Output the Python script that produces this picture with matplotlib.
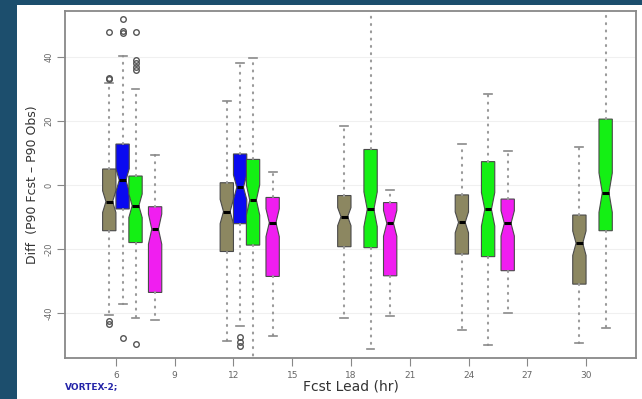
#! /usr/bin/env python3
# Notched box plots of P90 difference vs forecast lead time

import matplotlib
matplotlib.use('Agg')
import matplotlib.pyplot as plt
import numpy as np

# Data
leads = [6, 12, 18, 24, 30]
xtick_vals = [6, 9, 12, 15, 18, 21, 24, 27, 30]
n_cases = 80            # rough sample size, used for the notch size

olive_leads = [6, 12, 18, 24, 30]
olive_q3 = [5.0, 0.7, -3.3, -3.1, -9.4]
olive_med = [-5.2, -8.3, -9.9, -11.7, -18.2]
olive_q1 = [-14.3, -20.8, -19.3, -21.6, -31.0]
olive_whi = [32.0, 26.3, 18.4, 12.8, 12.0]
olive_wlo = [-40.5, -48.9, -41.7, -45.5, -49.3]
olive_fliers = [[33.2, 33.6, 47.8, -42.6, -43.4], [], [], [], []]

blue_leads = [6, 12]
blue_q3 = [12.8, 9.7]
blue_med = [1.5, -0.7]
blue_q1 = [-7.5, -12.1]
blue_whi = [40.3, 38.2]
blue_wlo = [-37.1, -44.0]
blue_fliers = [[47.6, 48.1, 51.9, -48.0], [-47.5, -49.0, -50.2]]

green_leads = [6, 12, 18, 24, 30]
green_q3 = [2.8, 8.0, 11.1, 7.3, 20.6]
green_med = [-6.5, -4.7, -7.6, -7.6, -2.4]
green_q1 = [-18.0, -18.8, -19.6, -22.4, -14.3]
green_whi = [30.1, 39.6, 58.0, 28.4, 58.0]
green_wlo = [-41.6, -58.0, -51.3, -49.9, -44.8]
green_fliers = [[35.8, 36.8, 38.2, 39.2, 47.8, -49.8], [], [], [], []]

magenta_leads = [6, 12, 18, 24]
magenta_q3 = [-6.8, -3.9, -5.5, -4.4]
magenta_med = [-13.8, -11.8, -12.0, -12.0]
magenta_q1 = [-33.6, -28.6, -28.4, -26.8]
magenta_whi = [9.3, 4.2, -1.6, 10.7]
magenta_wlo = [-42.2, -47.1, -40.9, -39.9]
magenta_fliers = [[], [], [], []]

series = [
    (olive_leads, olive_q1, olive_med, olive_q3, olive_wlo, olive_whi, olive_fliers, -0.34, '#8c8761'),
    (blue_leads, blue_q1, blue_med, blue_q3, blue_wlo, blue_whi, blue_fliers, 0.34, '#0a0af0'),
    (green_leads, green_q1, green_med, green_q3, green_wlo, green_whi, green_fliers, 1.0, '#14f014'),
    (magenta_leads, magenta_q1, magenta_med, magenta_q3, magenta_wlo, magenta_whi, magenta_fliers, 2.0, '#f01ef0'),
]

fig = plt.figure(figsize=(6.42, 3.99), dpi=100)
fig.patch.set_facecolor('#1c4e6d')

# white panel behind the plot
bg = fig.add_axes([17/642., 0, 1 - 17/642., 1 - 5/399.], zorder=-5)
bg.set_facecolor('white')
bg.set_xticks([])
bg.set_yticks([])
for sp in bg.spines.values():
    sp.set_visible(False)

ax = fig.add_axes([65/642., 1 - 358/399., (636 - 65)/642., (358 - 11)/399.])
ax.set_facecolor('white')

for s in series:
    lds, q1, med, q3, wlo, whi, fl, off, col = s
    stats = []
    for i in range(len(lds)):
        iqr = q3[i] - q1[i]
        half = 1.58 * iqr / np.sqrt(n_cases)
        stats.append(dict(med=med[i], q1=q1[i], q3=q3[i], whislo=wlo[i], whishi=whi[i],
                          cilo=med[i] - half, cihi=med[i] + half, fliers=fl[i]))
    pos = [l + off for l in lds]
    ax.bxp(stats, positions=pos, widths=0.68, capwidths=0.4, shownotches=True,
           patch_artist=True, manage_ticks=False,
           boxprops=dict(facecolor=col, edgecolor='#4a4a4a', linewidth=0.8),
           medianprops=dict(color='black', linewidth=2.2),
           whiskerprops=dict(color='#9a9a9a', linestyle=(0, (0.5, 3.0)), linewidth=1.5,
                             dash_capstyle='round'),
           capprops=dict(color='#8a8a8a', linewidth=1.2),
           flierprops=dict(marker='o', markerfacecolor='none', markeredgecolor='#555555',
                           markersize=4, markeredgewidth=1.0))

ax.set_xlim(3.4, 32.55)
ax.set_ylim(-54.1, 54.4)
ax.set_axisbelow(True)
ax.grid(which='major', axis='y', color='#f0f0f0', linewidth=0.8)

ax.set_yticks([-40, -20, 0, 20, 40])
ax.set_yticklabels(['-40', '-20', '0', '20', '40'], rotation=90, va='center', fontsize=6, color='#666666')
ax.set_xticks(xtick_vals)
ax.set_xticklabels([str(v) for v in xtick_vals], fontsize=6.5, color='#666666')
ax.tick_params(axis='both', direction='out', length=6, width=0.8, color='#888888')
ax.tick_params(axis='x', pad=3)
ax.tick_params(axis='y', pad=2)

for sp in ax.spines.values():
    sp.set_color('#888888')
    sp.set_linewidth(1.3)

ax.set_xlabel('Fcst Lead (hr)', fontsize=10, color='#333333')
ax.set_ylabel('Diff  (P90 Fcst \u2013 P90 Obs)', fontsize=9, color='#333333')
ax.yaxis.set_label_coords(-0.046, 0.5)
ax.xaxis.set_label_coords(0.5, -0.062)

fig.text(65/642., 1 - 387/399., 'VORTEX-2;', fontsize=6.5, color='#2424a8',
         fontweight='bold', va='center', ha='left')

plt.savefig('out.png', dpi=100, facecolor=fig.get_facecolor())
